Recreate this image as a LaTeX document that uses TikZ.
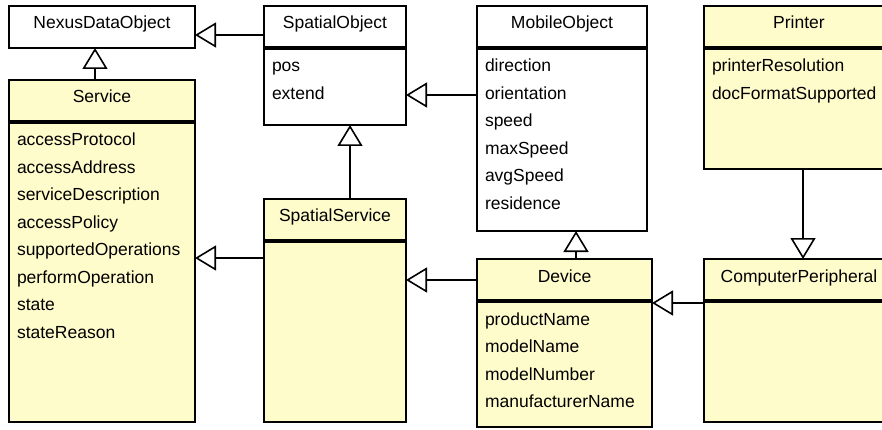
\documentclass[tikz,border=0pt]{standalone}
\usepackage{fontspec}
\setmainfont{Liberation Sans}
\usetikzlibrary{positioning,arrows.meta}
\tikzstyle{line} = [draw, line width=1.6pt, -{Triangle[open, length=21pt, width=25pt]}]
\tikzstyle{sep} = [draw, line width=4pt]
\tikzstyle{cls} = [rectangle, draw, fill=white, line width=1.6pt, minimum height=42pt, inner sep=0pt, outer sep=0pt, text height=10pt, text depth=6pt, font=\fontsize{17.5}{27.5}\selectfont]
\tikzstyle{cls_y} = [rectangle, draw, fill=yellow!20, line width=1.6pt, minimum height=42pt, inner sep=0pt, outer sep=0pt, text height=10pt, text depth=6pt, font=\fontsize{17.5}{27.5}\selectfont]
\tikzstyle{attrs} = [rectangle, draw, fill=white, line width=1.6pt, inner xsep=8pt, inner ysep=0pt, outer sep=0pt, text height=24pt, align=left, font=\fontsize{17.5}{27.5}\selectfont]
\tikzstyle{attrs_y} = [rectangle, draw, fill=yellow!20, line width=1.6pt, inner xsep=8pt, inner ysep=0pt, outer sep=0pt, text height=24pt, align=left, font=\fontsize{17.5}{27.5}\selectfont]
\begin{document}
\begin{tikzpicture}[x=1pt, y=-1pt]
		\useasboundingbox (0,0) rectangle (882,430);
		\clip (0,0) rectangle (882,430);

		\node [cls, minimum width=186pt] (nexus) at (102,27) {NexusDataObject};
		\node [cls_y, minimum width=186pt, below=32pt of nexus] (service) {Service};
		\node [attrs_y, text width=170pt, text depth=276pt, below=0pt of service] (service_a) {accessProtocol\\accessAddress\\serviceDescription\\accessPolicy\\supportedOperations\\performOperation\\state\\stateReason};

		\node [cls, minimum width=142pt, right=69pt of nexus] (spatial) {SpatialObject};
		\node [attrs, text width=126pt, text depth=53pt, below=0pt of spatial] (spatial_a) {pos\\extend};
		\node [cls_y, minimum width=142pt, below=74pt of spatial_a] (sservice) {SpatialService};
		\node [attrs_y, text width=126pt, text depth=157pt, below=0pt of sservice] (sservice_a) {};

		\node [cls, minimum width=170pt, right=71pt of spatial] (mobile) {MobileObject};
		\node [attrs, text width=154pt, text depth=159pt, below=0pt of mobile] (mobile_a) {direction\\orientation\\speed\\maxSpeed\\avgSpeed\\residence};
		\node [cls_y, minimum width=175pt, below right=28pt and 0pt of mobile_a.south west] (device) {Device};
		\node [attrs_y, text width=159pt, text depth=102pt, below=0pt of device] (device_a) {productName\\modelName\\modelNumber\\manufacturerName};

		\node [cls_y, minimum width=190pt, right=57pt of mobile] (printer) {Printer};
		\node [attrs_y, text width=174pt, text depth=97pt, below=0pt of printer] (printer_a) {printerResolution\\docFormatSupported};
		\node [cls_y, minimum width=190pt, right=52pt of device] (periph) {ComputerPeripheral};
		\node [attrs_y, text width=174pt, text depth=97pt, below=0pt of periph] (periph_a) {};

		\foreach \c in {service, spatial, sservice, mobile, device, printer, periph}
			\path [sep] (\c.south west) -- (\c.south east);

		\path [line] ([yshift=-8pt]spatial.west) -- ([yshift=-8pt]spatial.west -| nexus.east);
		\path [line] ([xshift=-7pt]service.north) -- ([xshift=-7pt]service.north |- nexus.south);
		\path [line] ([yshift=-17pt]sservice_a.north west) -- ([yshift=-17pt]sservice_a.north west -| service_a.east);
		\path [line] ([xshift=15pt]sservice.north) -- ([xshift=15pt]sservice.north |- spatial_a.south);
		\path [line] ([yshift=-47pt]mobile_a.north west) -- ([yshift=-47pt]mobile_a.north west -| spatial_a.east);
		\path [line] (device.west) -- (device.west -| sservice_a.east);
		\path [line] ([xshift=11.5pt]device.north) -- ([xshift=11.5pt]device.north |- mobile_a.south);
		\path [line] ([yshift=-2pt]periph_a.north west) -- ([yshift=-2pt]periph_a.north west -| device_a.east);
		\path [line] ([xshift=4pt]printer_a.south) -- ([xshift=4pt]printer_a.south |- periph.north);
\end{tikzpicture}
\end{document}
